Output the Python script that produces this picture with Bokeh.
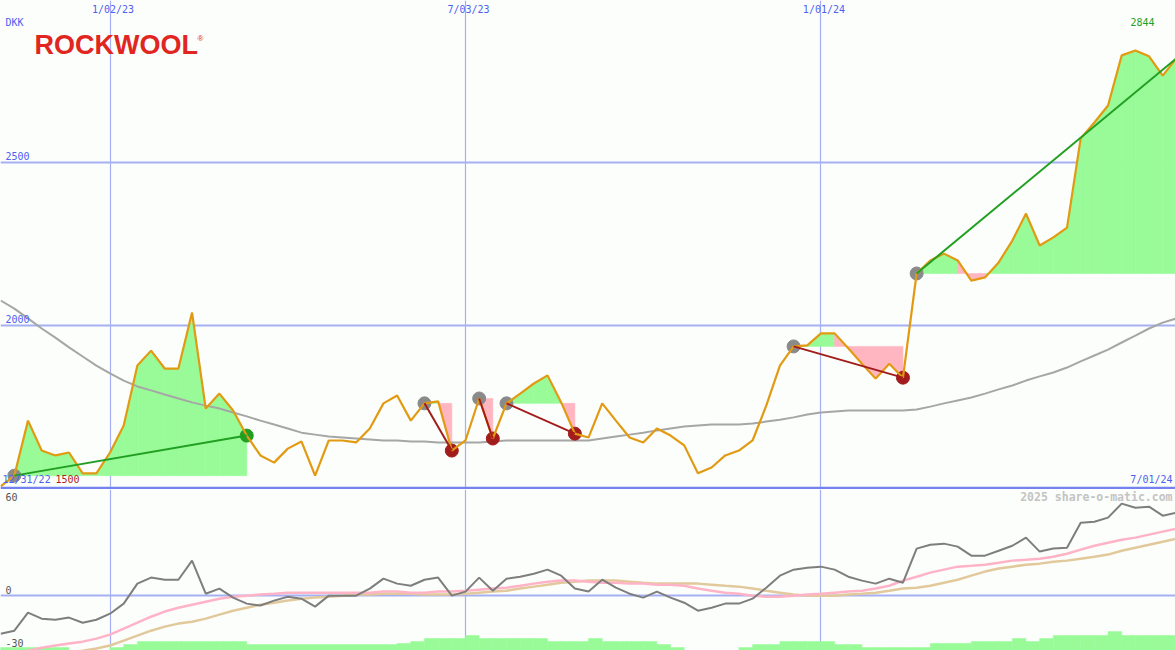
from datetime import datetime
import pandas as pd
from bokeh.plotting import figure
from bokeh.layouts import column
from bokeh.models import Range1d, FixedTicker, Span, Label
from bokeh.embed import file_html
from bokeh.resources import INLINE

# ---- weekly data (Mondays) ----
weeks = pd.date_range("2022-11-07", periods=87, freq="7D")

close = [1505,
         1538, 1707, 1615, 1600, 1609, 1545, 1545, 1609, 1692, 1876,
         1922, 1867, 1867, 2039, 1744, 1790, 1738, 1661, 1600, 1578,
         1621, 1643, 1538, 1646, 1646, 1640, 1683, 1760, 1784, 1707,
         1760, 1766, 1615, 1646, 1775, 1652, 1760, 1790, 1821, 1846,
         1763, 1667, 1655, 1760, 1707, 1655, 1640, 1683, 1661, 1631,
         1545, 1563, 1600, 1615, 1646, 1753, 1876, 1935, 1938, 1975,
         1975, 1929, 1882, 1836, 1882, 1839, 2159, 2199, 2220, 2199,
         2137, 2147, 2193, 2260, 2343, 2245, 2270, 2300, 2574, 2623,
         2675, 2829, 2844, 2826, 2767, 2820]

# long moving average
ma_long = [2076,
           2051, 2021, 1990, 1962, 1932, 1904, 1876, 1852, 1830,
           1812, 1800, 1787, 1775, 1763, 1753, 1744, 1732, 1720, 1707,
           1695, 1683, 1670, 1664, 1658, 1655, 1652, 1649, 1646, 1646,
           1643, 1643, 1640, 1640, 1640, 1640, 1643, 1646, 1646, 1646,
           1646, 1646, 1646, 1646, 1652, 1658, 1664, 1670, 1677, 1683,
           1689, 1692, 1695, 1695, 1695, 1698, 1704, 1710, 1717, 1726,
           1732, 1735, 1738, 1738, 1738, 1738, 1738, 1741, 1750, 1760,
           1769, 1778, 1790, 1803, 1815, 1830, 1843, 1855, 1870, 1889,
           1907, 1925, 1947, 1968, 1990, 2008, 2021]

# trend segments: (start week index, end week index)
trends = [(1, 18), (31, 33), (35, 36), (37, 42), (58, 66), (67, 86)]

# lower panel indicators
momentum = [-21.5,
            -19.8, -9.6, -13.0, -13.6, -12.4, -15.3, -13.6, -10.2, -4.5, 6.8,
            10.2, 9.0, 9.0, 19.8, 1.1, 4.0, -1.1, -4.5, -5.6, -2.8,
            -0.6, -1.7, -6.2, 0.0, 0.0, 0.0, 4.0, 9.6, 6.8, 5.6,
            9.0, 10.2, 0.0, 2.3, 10.2, 2.8, 9.6, 10.7, 12.4, 14.7,
            11.3, 4.0, 2.3, 9.0, 4.5, 1.1, -1.1, 2.3, -1.1, -4.0,
            -8.5, -6.8, -4.5, -4.5, -1.7, 4.5, 11.3, 14.7, 15.8, 16.4,
            14.7, 10.7, 8.5, 6.8, 9.6, 7.3, 26.6, 28.8, 29.4, 27.7,
            22.6, 22.6, 25.4, 28.2, 32.8, 24.9, 26.6, 27.1, 41.2, 41.8,
            44.1, 52.0, 49.7, 50.3, 45.2, 46.9]

signal_fast = [-34.0,
               -32.8, -31.1, -29.4, -28.2, -27.1, -26.0, -24.3, -22.0, -18.6, -15.3,
               -11.9, -9.0, -6.8, -5.1, -3.4, -1.7, -0.6, 0.0, 0.6, 1.1,
               1.7, 1.7, 1.7, 1.7, 1.7, 1.7, 1.7, 2.3, 2.3, 1.7,
               1.7, 2.3, 2.3, 2.8, 3.4, 4.0, 4.5, 5.6, 6.8, 7.9,
               8.5, 8.5, 7.9, 7.3, 7.3, 6.8, 6.8, 6.2, 6.2, 5.6,
               4.0, 2.8, 1.7, 1.1, 0.0, -0.6, -0.6, 0.0, 0.6, 1.1,
               1.7, 2.3, 2.8, 4.0, 5.6, 8.5, 10.7, 13.0, 14.7, 16.4,
               16.9, 17.5, 18.6, 19.8, 20.3, 20.9, 22.0, 23.7, 26.0, 28.2,
               29.9, 31.6, 32.8, 34.5, 36.2, 37.9]

signal_slow = [-37.0,
               -36.0, -35.0, -34.0, -33.0, -32.0, -31.1, -29.9, -28.2, -25.4, -22.6,
               -19.8, -17.5, -15.8, -14.7, -13.0, -10.7, -8.5, -6.8, -5.1, -4.0,
               -2.8, -1.7, -1.1, -0.6, 0.0, 0.6, 0.6, 1.1, 1.1, 1.1,
               0.6, 0.6, 0.6, 1.1, 1.7, 2.3, 2.8, 4.0, 5.1, 6.2,
               7.3, 7.9, 8.5, 8.5, 8.5, 7.9, 7.3, 6.8, 6.8, 6.8,
               6.8, 6.2, 5.6, 5.1, 4.0, 2.8, 1.7, 0.6, 0.0, 0.0,
               0.0, 0.6, 1.1, 1.7, 2.8, 4.0, 4.5, 5.6, 7.3, 9.0,
               11.3, 13.6, 15.3, 16.4, 17.5, 18.1, 19.2, 19.8, 20.9, 22.0,
               23.2, 25.4, 27.1, 28.8, 30.5, 32.2]

# bar heights above the panel floor
activity = [1.7,
            1.7, 1.7, 1.7, 1.7, 1.7, 0.0, 0.0, 0.0, 1.7, 3.4,
            5.1, 5.1, 5.1, 5.1, 5.1, 5.1, 5.1, 5.1, 3.4, 3.4,
            3.4, 3.4, 3.4, 3.4, 3.4, 3.4, 3.4, 3.4, 3.4, 4.0,
            5.1, 6.8, 6.8, 6.8, 8.5, 6.8, 6.8, 6.8, 6.8, 6.8,
            5.1, 5.1, 5.1, 6.8, 5.1, 5.1, 5.1, 5.1, 3.4, 1.7,
            0.0, 0.0, 0.0, 0.0, 1.7, 3.4, 3.4, 5.1, 5.1, 5.1,
            5.1, 3.4, 3.4, 1.7, 1.7, 1.7, 1.7, 1.7, 4.0, 4.0,
            4.0, 5.1, 5.1, 5.1, 6.8, 5.1, 6.8, 8.5, 8.5, 8.5,
            8.5, 10.7, 8.5, 8.5, 8.5, 8.5]

grid_dates = ["2023-01-02", "2023-07-03", "2024-01-01"]
grid_labels = ["1/02/23", "7/03/23", "1/01/24"]
price_ticks = [2000, 2500]
price_labels = ["2000", "2500"]
price_floor = 1500

BG = "#fbfefb"
GRID = "#a6aff4"
BLUE_TXT = "#4f5ff0"
PRICE = "#e29a12"
UP_FILL = "#98fb98"
DN_FILL = "#ffb6c1"
UP_LINE = "#229f22"
DN_LINE = "#a31c1c"
MONO = "DejaVu Sans Mono"


def ms(d):
    return (pd.Timestamp(d) - pd.Timestamp("1970-01-01")) / pd.Timedelta(milliseconds=1)


t = [ms(d) for d in weeks]
WEEK = 7 * 86400000.0
xr = Range1d(start=ms(datetime(2022, 11, 6, 22)), end=ms(datetime(2024, 6, 30, 13)))

# ---------------- price panel ----------------
main = figure(width=1175, height=489, x_axis_type="datetime", x_range=xr,
              y_range=Range1d(1495.4, 2997.6), output_backend="svg",
              toolbar_location=None, min_border=0, outline_line_color=None,
              background_fill_color=BG, border_fill_color=BG)
main.xaxis.visible = False
main.yaxis.visible = False
main.xgrid.ticker = FixedTicker(ticks=[ms(d) for d in grid_dates])
main.xgrid.grid_line_color = GRID
main.xgrid.grid_line_width = 1.2
main.ygrid.ticker = FixedTicker(ticks=price_ticks)
main.ygrid.grid_line_color = GRID
main.ygrid.grid_line_width = 2.2

# fills between price and each trend's starting level
up_xs, up_ys, dn_xs, dn_ys = [], [], [], []
for s, e in trends:
    base = close[s]
    for k in range(s, e):
        xs = [t[k], t[k + 1], t[k + 1], t[k]]
        ys = [close[k], close[k + 1], base, base]
        if close[k + 1] >= base:
            up_xs.append(xs); up_ys.append(ys)
        else:
            dn_xs.append(xs); dn_ys.append(ys)
main.patches(up_xs, up_ys, fill_color=UP_FILL, line_color=UP_FILL, line_width=0.6)
main.patches(dn_xs, dn_ys, fill_color=DN_FILL, line_color=DN_FILL, line_width=0.6)

main.line(weeks, ma_long, line_color="#a6a6a6", line_width=2)
main.add_layout(Span(location=price_floor, dimension="width", line_color="#7482f0", line_width=2.5))

# trend markers and connecting lines
sx = [t[s] for s, e in trends]
sy = [close[s] for s, e in trends]
main.scatter(sx, sy, size=13, fill_color="#8a8a8a", line_color="#8a8a8a")
ex, ey, ec = [], [], []
for s, e in trends:
    if e < len(close) - 1:
        ex.append(t[e]); ey.append(close[e])
        ec.append(UP_LINE if close[e] > close[s] else DN_LINE)
main.scatter(ex, ey, size=13, fill_color=ec, line_color=ec)

main.line(weeks, close, line_color=PRICE, line_width=2.2)

seg_c = [UP_LINE if close[e] > close[s] else DN_LINE for s, e in trends]
main.segment(x0=[t[s] for s, e in trends], y0=[close[s] for s, e in trends],
             x1=[t[e] for s, e in trends], y1=[close[e] for s, e in trends],
             line_color=seg_c, line_width=2)

y_top = main.y_range.end
x_left = xr.start
x_right = xr.end


def lbl(fig, x, y, text, color, size="10px", align="left", dx=0, dy=0, style="normal", font=MONO):
    # dy: screen pixels, positive = downward from the anchor
    fig.add_layout(Label(x=x, y=y, text=text, text_color=color, text_font=font,
                         text_font_size=size, text_align=align, text_baseline="middle",
                         x_offset=dx, y_offset=-dy, text_font_style=style))


lbl(main, x_left, y_top, "DKK", BLUE_TXT, dx=5, dy=21.5)
for d, s in zip(grid_dates, grid_labels):
    lbl(main, ms(d), y_top, s, BLUE_TXT, align="center", dx=3, dy=9)
for v, s in zip(price_ticks, price_labels):
    lbl(main, x_left, v, s, BLUE_TXT, dx=5, dy=-6)
lbl(main, x_left, price_floor, "12/31/22", BLUE_TXT, dx=2, dy=-9)
lbl(main, x_left, price_floor, str(price_floor), "#b01c1c", dx=55, dy=-9)
lbl(main, x_right, price_floor, "7/01/24", BLUE_TXT, align="right", dx=-3, dy=-9)
lbl(main, x_right, y_top, str(max(close)), "#22a022", align="right", dx=-21, dy=21)
lbl(main, x_left, y_top, "ROCKWOOL", "#e0261f", size="27px", dx=34, dy=44,
    style="bold", font="Liberation Sans")
lbl(main, x_left, y_top, "\u00ae", "#e0261f", size="8px", dx=197, dy=38, font="Liberation Sans")

# ---------------- indicator panel ----------------
low = figure(width=1175, height=161, x_axis_type="datetime", x_range=xr,
             y_range=Range1d(-31, 60), output_backend="svg",
             toolbar_location=None, min_border=0, outline_line_color=None,
             background_fill_color=BG, border_fill_color=BG)
low.xaxis.visible = False
low.yaxis.visible = False
low.xgrid.ticker = FixedTicker(ticks=[ms(d) for d in grid_dates])
low.xgrid.grid_line_color = GRID
low.xgrid.grid_line_width = 1.2
low.ygrid.ticker = FixedTicker(ticks=[0])
low.ygrid.grid_line_color = GRID
low.ygrid.grid_line_width = 2.2

floor = low.y_range.start
low.vbar(x=[v - WEEK / 2 for v in t], width=WEEK, bottom=floor,
         top=[floor + h for h in activity], fill_color=UP_FILL, line_color=UP_FILL, line_width=0.5)
low.line(weeks, signal_slow, line_color="#e2c99c", line_width=2.5)
low.line(weeks, signal_fast, line_color="#ffb3c7", line_width=2.5)
low.line(weeks, momentum, line_color="#7e7e7e", line_width=2)

lbl(low, x_left, 60, "60", "#555555", dx=5, dy=7)
lbl(low, x_left, 0, "0", "#555555", dx=5, dy=-6)
lbl(low, x_left, floor, "-30", "#555555", dx=5, dy=-8)
lbl(low, x_right, 60, "2025 share-o-matic.com", "#c4c4c4", size="11.5px", align="right",
    dx=-3, dy=7.5, style="bold")

page = column(main, low, spacing=0)
open("out.html", "w").write(file_html(page, INLINE))
